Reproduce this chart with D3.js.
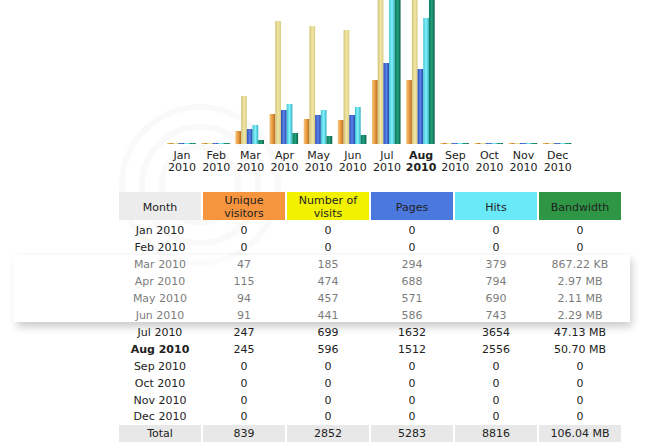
<!DOCTYPE html>
<html lang="en">
<head>
    <meta charset="UTF-8">
    <title>Monthly history</title>
    <script src="https://d3js.org/d3.v7.min.js"></script>
    <style>
        body { margin: 0; background: #fff; }
        svg { display: block; font-family: "DejaVu Sans", Verdana, sans-serif; }
        .lbl { font-size: 11px; fill: #222; }
        .cell { font-size: 11px; fill: #222; text-anchor: middle; }
    </style>
</head>
<body>
    <div id="chart"></div>

    <script>
        const width = 656, height = 445;

        // Data
        const months = ["Jan", "Feb", "Mar", "Apr", "May", "Jun", "Jul", "Aug", "Sep", "Oct", "Nov", "Dec"];
        const year = "2010";
        const currentMonth = "Aug";
        const visitors = [0, 0, 47, 115, 94, 91, 247, 245, 0, 0, 0, 0];
        const visits = [0, 0, 185, 474, 457, 441, 699, 596, 0, 0, 0, 0];
        const pages = [0, 0, 294, 688, 571, 586, 1632, 1512, 0, 0, 0, 0];
        const hits = [0, 0, 379, 794, 690, 743, 3654, 2556, 0, 0, 0, 0];
        const bandwidthMB = [0, 0, 0.8469, 2.97, 2.11, 2.29, 47.13, 50.70, 0, 0, 0, 0];
        const bandwidthLabels = ["0", "0", "867.22 KB", "2.97 MB", "2.11 MB", "2.29 MB", "47.13 MB", "50.70 MB", "0", "0", "0", "0"];
        const totalBandwidthLabel = "106.04 MB";
        const headers = [["Month"], ["Unique", "visitors"], ["Number of", "visits"], ["Pages"], ["Hits"], ["Bandwidth"]];
        const headerColors = ["#ececec", "#f7953f", "#f2f200", "#4a78dc", "#6ae9f9", "#2f9646"];

        const svg = d3.select("#chart").append("svg")
            .attr("width", width).attr("height", height);

        const defs = svg.append("defs");

        // bar gradients (left, middle, right)
        const gradStops = {
            visitors: ["#f6c378", "#e99c44", "#b7691c"],
            visits: ["#cfc174", "#f1e7a6", "#d9cb80"],
            pages: ["#2c4cb4", "#5b84ea", "#2343a4"],
            hits: ["#3cc4d6", "#86f2fa", "#2fb0c2"],
            bandwidth: ["#0b7a5a", "#22a07e", "#0a5e46"]
        };
        Object.entries(gradStops).forEach(([k, c]) => {
            const g = defs.append("linearGradient").attr("id", "g-" + k)
                .attr("x1", 0).attr("x2", 1).attr("y1", 0).attr("y2", 0);
            g.append("stop").attr("offset", "0%").attr("stop-color", c[0]);
            g.append("stop").attr("offset", "50%").attr("stop-color", c[1]);
            g.append("stop").attr("offset", "100%").attr("stop-color", c[2]);
        });

        // faint rings of the watermark logo
        svg.append("g").selectAll("circle").data([38, 58, 78]).enter()
            .append("circle").attr("cx", 200).attr("cy", 185).attr("r", d => d)
            .attr("fill", "none").attr("stroke", "#f9f9f9").attr("stroke-width", 6);

        // ---- bar chart ----
        const baseline = 144, maxBar = 180;
        const yVisit = d3.scaleLinear().domain([0, d3.max(visitors.concat(visits))]).range([0, maxBar]);
        const yHit = d3.scaleLinear().domain([0, d3.max(pages.concat(hits))]).range([0, maxBar]);
        const yBw = d3.scaleLinear().domain([0, d3.max(bandwidthMB)]).range([0, maxBar]);

        const series = [
            { key: "visitors", values: visitors, scale: yVisit },
            { key: "visits", values: visits, scale: yVisit },
            { key: "pages", values: pages, scale: yHit },
            { key: "hits", values: hits, scale: yHit },
            { key: "bandwidth", values: bandwidthMB, scale: yBw }
        ];

        const x = d3.scaleBand().domain(months).range([164.3, 574.1])
            .paddingInner(0.165).paddingOuter(0.0825);
        const xs = d3.scaleBand().domain(series.map(s => s.key)).range([0, x.bandwidth()]);

        const groups = svg.append("g").selectAll("g").data(months).enter()
            .append("g").attr("transform", d => `translate(${x(d)},0)`);

        groups.selectAll("rect")
            .data((m, i) => series.map(s => ({ key: s.key, h: Math.floor(s.scale(s.values[i])) + 1 })))
            .enter().append("rect")
            .attr("x", d => xs(d.key)).attr("width", xs.bandwidth())
            .attr("y", d => baseline - d.h).attr("height", d => d.h)
            .attr("fill", d => `url(#g-${d.key})`);

        const labels = svg.append("g").selectAll("text").data(months).enter()
            .append("text").attr("class", "lbl")
            .attr("text-anchor", "middle")
            .attr("font-weight", d => d === currentMonth ? "bold" : null)
            .attr("x", d => x(d) + x.bandwidth() / 2 + 0.7);
        labels.append("tspan").attr("x", d => x(d) + x.bandwidth() / 2 + 0.7).attr("y", 159).text(d => d);
        labels.append("tspan").attr("x", d => x(d) + x.bandwidth() / 2 + 0.7).attr("y", 171).text(year);

        // ---- table ----
        const cols = d3.range(headers.length);
        const cx = d3.scaleBand().domain(cols).range([119, 621]).paddingInner(0.0238);
        const rowKeys = months.concat(["Total"]);
        const ry = d3.scalePoint().domain(rowKeys).range([234, 437.4]);

        const head = svg.append("g");
        head.selectAll("rect").data(cols).enter().append("rect")
            .attr("x", d => cx(d)).attr("width", cx.bandwidth())
            .attr("y", 192).attr("height", 28)
            .attr("fill", d => headerColors[d]);
        head.selectAll("text").data(cols).enter().append("text")
            .attr("class", "cell").attr("fill", "#1a1a1a")
            .each(function (d) {
                const lines = headers[d];
                const t = d3.select(this);
                lines.forEach((ln, j) => {
                    t.append("tspan").attr("x", cx(d) + cx.bandwidth() / 2)
                        .attr("y", lines.length === 1 ? 211 : 204 + j * 12.5)
                        .text(ln);
                });
            });

        // total row background
        svg.append("g").selectAll("rect").data(cols).enter().append("rect")
            .attr("x", d => cx(d)).attr("width", cx.bandwidth())
            .attr("y", 425).attr("height", 17).attr("fill", "#e8e8e8");

        const fmt = v => String(v);
        const rows = months.map((m, i) => [m + " " + year, fmt(visitors[i]), fmt(visits[i]),
            fmt(pages[i]), fmt(hits[i]), bandwidthLabels[i]]);
        rows.push(["Total", fmt(d3.sum(visitors)), fmt(d3.sum(visits)), fmt(d3.sum(pages)),
            fmt(d3.sum(hits)), totalBandwidthLabel]);

        const body = svg.append("g");
        rows.forEach((r, i) => {
            body.selectAll(null).data(r).enter().append("text")
                .attr("class", "cell")
                .attr("font-weight", (d, j) => j === 0 && rowKeys[i] === currentMonth ? "bold" : null)
                .attr("x", (d, j) => cx(j) + cx.bandwidth() / 2)
                .attr("y", ry(rowKeys[i]))
                .text(d => d);
        });

        // ---- photo host overlay box (whitened band with a soft shadow) ----
        const mask = defs.append("mask").attr("id", "wm-mask");
        mask.append("rect").attr("width", width).attr("height", height).attr("fill", "#fff");
        mask.append("rect").attr("x", 13).attr("y", 255).attr("width", 617).attr("height", 67).attr("fill", "#000");
        defs.append("filter").attr("id", "blur").attr("x", "-10%").attr("y", "-50%")
            .attr("width", "120%").attr("height", "200%")
            .append("feGaussianBlur").attr("stdDeviation", 4);

        svg.append("rect").attr("x", 17).attr("y", 259).attr("width", 615).attr("height", 68)
            .attr("fill", "#000").attr("opacity", 0.2)
            .attr("filter", "url(#blur)").attr("mask", "url(#wm-mask)");
        svg.append("rect").attr("x", 13).attr("y", 255).attr("width", 617).attr("height", 67)
            .attr("fill", "#fff").attr("opacity", 0.4);
    </script>
</body>
</html>
